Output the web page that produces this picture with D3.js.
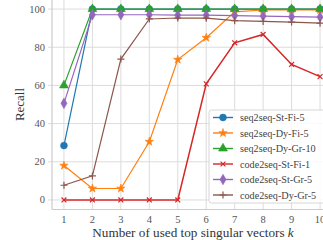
<!DOCTYPE html>
<html>
<head>
<meta charset="utf-8">
<script src="https://cdn.jsdelivr.net/npm/d3@7"></script>
<style>
  body { margin: 0; background: #fff; }
  svg text { font-family: "Liberation Serif", "DejaVu Serif", serif; }
</style>
</head>
<body>
<svg width="323" height="240"></svg>
<script>
const ks = [1, 2, 3, 4, 5, 6, 7, 8, 9, 10];
const yTicks = [0, 20, 40, 60, 80, 100];

const seqStFi5 = [28.5, 100, 100, 100, 100, 100, 100, 100, 100, 100];
const seqDyFi5 = [18, 6, 6, 30.5, 73.5, 85, 98.5, 99.5, 99.5, 99.5];
const seqDyGr10 = [60, 100, 100, 100, 100, 100, 100, 100, 100, 100];
const codeStFi1 = [0, 0, 0, 0, 0, 60.8, 82.3, 86.7, 71, 64.6];
const codeStGr5 = [50.6, 97, 97, 97, 96.8, 96.8, 96.6, 96.3, 96, 95.8];
const codeDyGr5 = [7.7, 12.6, 73.8, 94.8, 95.3, 95.2, 93.9, 93.5, 93.2, 92.6];

const series = [
  { name: 'seq2seq-St-Fi-5', values: seqStFi5, color: '#1f77b4', marker: 'circle' },
  { name: 'seq2seq-Dy-Fi-5', values: seqDyFi5, color: '#ff7f0e', marker: 'star' },
  { name: 'seq2seq-Dy-Gr-10', values: seqDyGr10, color: '#2ca02c', marker: 'triangle' },
  { name: 'code2seq-St-Fi-1', values: codeStFi1, color: '#d62728', marker: 'x' },
  { name: 'code2seq-St-Gr-5', values: codeStGr5, color: '#9467bd', marker: 'diamond' },
  { name: 'code2seq-Dy-Gr-5', values: codeDyGr5, color: '#8c564b', marker: 'plus' }
];

const svg = d3.select('svg');

const x = d3.scaleLinear().domain([0.58, 10.42]).range([52, 332]);
const y = d3.scaleLinear().domain([-5, 105]).range([209.5, -0.5]);

// grid
svg.append('g')
  .selectAll('line')
  .data(ks)
  .enter()
  .append('line')
  .attr('x1', d => x(d)).attr('x2', d => x(d))
  .attr('y1', y(-5)).attr('y2', y(105))
  .attr('stroke', '#dcdcdc').attr('stroke-width', 1);
svg.append('g')
  .selectAll('line')
  .data(yTicks)
  .enter()
  .append('line')
  .attr('x1', x(0.58) - 4).attr('x2', x(10.42))
  .attr('y1', d => y(d)).attr('y2', d => y(d))
  .attr('stroke', '#dcdcdc').attr('stroke-width', 1);

// spines
svg.append('line')
  .attr('x1', x(0.58)).attr('x2', x(0.58))
  .attr('y1', y(-5)).attr('y2', y(105))
  .attr('stroke', '#cccccc').attr('stroke-width', 1.2);
svg.append('line')
  .attr('x1', x(0.58)).attr('x2', x(10.42))
  .attr('y1', y(-5)).attr('y2', y(-5))
  .attr('stroke', '#cccccc').attr('stroke-width', 1.2);

// tick labels
svg.append('g')
  .selectAll('text')
  .data(yTicks)
  .enter()
  .append('text')
  .attr('x', 45)
  .attr('y', d => y(d) + 3.5)
  .attr('text-anchor', 'end')
  .attr('font-size', 10.5)
  .attr('fill', '#555')
  .text(d => d);
svg.append('g')
  .selectAll('text')
  .data(ks)
  .enter()
  .append('text')
  .attr('x', d => x(d))
  .attr('y', 223)
  .attr('text-anchor', 'middle')
  .attr('font-size', 10.5)
  .attr('fill', '#555')
  .text(d => d);

// axis titles
svg.append('text')
  .attr('transform', `translate(24, ${y(50)}) rotate(-90)`)
  .attr('text-anchor', 'middle')
  .attr('font-size', 13)
  .attr('fill', '#333')
  .text('Recall');
const xl = svg.append('text')
  .attr('x', 193)
  .attr('y', 237)
  .attr('text-anchor', 'middle')
  .attr('font-size', 13.2)
  .attr('fill', '#333')
  .text('Number of used top singular vectors ');
xl.append('tspan').attr('font-style', 'italic').text('k');

// markers
function markerPath(type, s) {
  if (type === 'circle') return d3.symbol(d3.symbolCircle, s * s * 0.75)();
  if (type === 'star') return d3.symbol(d3.symbolStar, s * s * 0.45)();
  if (type === 'triangle') return d3.symbol(d3.symbolTriangle, s * s * 0.7)();
  if (type === 'diamond') return d3.symbol(d3.symbolDiamond, s * s * 0.65)();
  const h = s / 2;
  if (type === 'x') return `M${-h * 0.7},${-h * 0.7}L${h * 0.7},${h * 0.7}M${-h * 0.7},${h * 0.7}L${h * 0.7},${-h * 0.7}`;
  return `M${-h},0L${h},0M0,${-h}L0,${h}`;
}
function drawMarker(g, type, color, s) {
  const open = type === 'x' || type === 'plus';
  g.append('path')
    .attr('d', markerPath(type, s))
    .attr('fill', open ? 'none' : color)
    .attr('stroke', color)
    .attr('stroke-width', open ? 1.2 : 0.6);
}

const line = d3.line()
  .x((d, i) => x(ks[i]))
  .y(d => y(d));

series.forEach(s => {
  const g = svg.append('g');
  g.append('path')
    .datum(s.values)
    .attr('d', line)
    .attr('fill', 'none')
    .attr('stroke', s.color)
    .attr('stroke-width', s.marker === 'x' ? 1.5 : 1.2);
  s.values.forEach((v, i) => {
    const m = g.append('g').attr('transform', `translate(${x(ks[i])},${y(v)})`);
    drawMarker(m, s.marker, s.color, 7);
  });
});

// legend
const lg = svg.append('g').attr('transform', 'translate(209, 110)');
lg.append('rect')
  .attr('x', 0).attr('y', 0)
  .attr('width', 130).attr('height', 93)
  .attr('rx', 2.5)
  .attr('fill', 'rgba(255,255,255,0.85)')
  .attr('stroke', '#d6d6d6');
series.forEach((s, i) => {
  const row = lg.append('g').attr('transform', `translate(0, ${7.5 + i * 15.5})`);
  row.append('line')
    .attr('x1', 4).attr('x2', 24)
    .attr('stroke', s.color).attr('stroke-width', 1.4);
  const m = row.append('g').attr('transform', 'translate(14,0)');
  drawMarker(m, s.marker, s.color, 7);
  row.append('text')
    .attr('x', 31)
    .attr('y', 3.5)
    .attr('font-size', 10.2)
    .attr('fill', '#444')
    .text(s.name);
});
</script>
</body>
</html>
